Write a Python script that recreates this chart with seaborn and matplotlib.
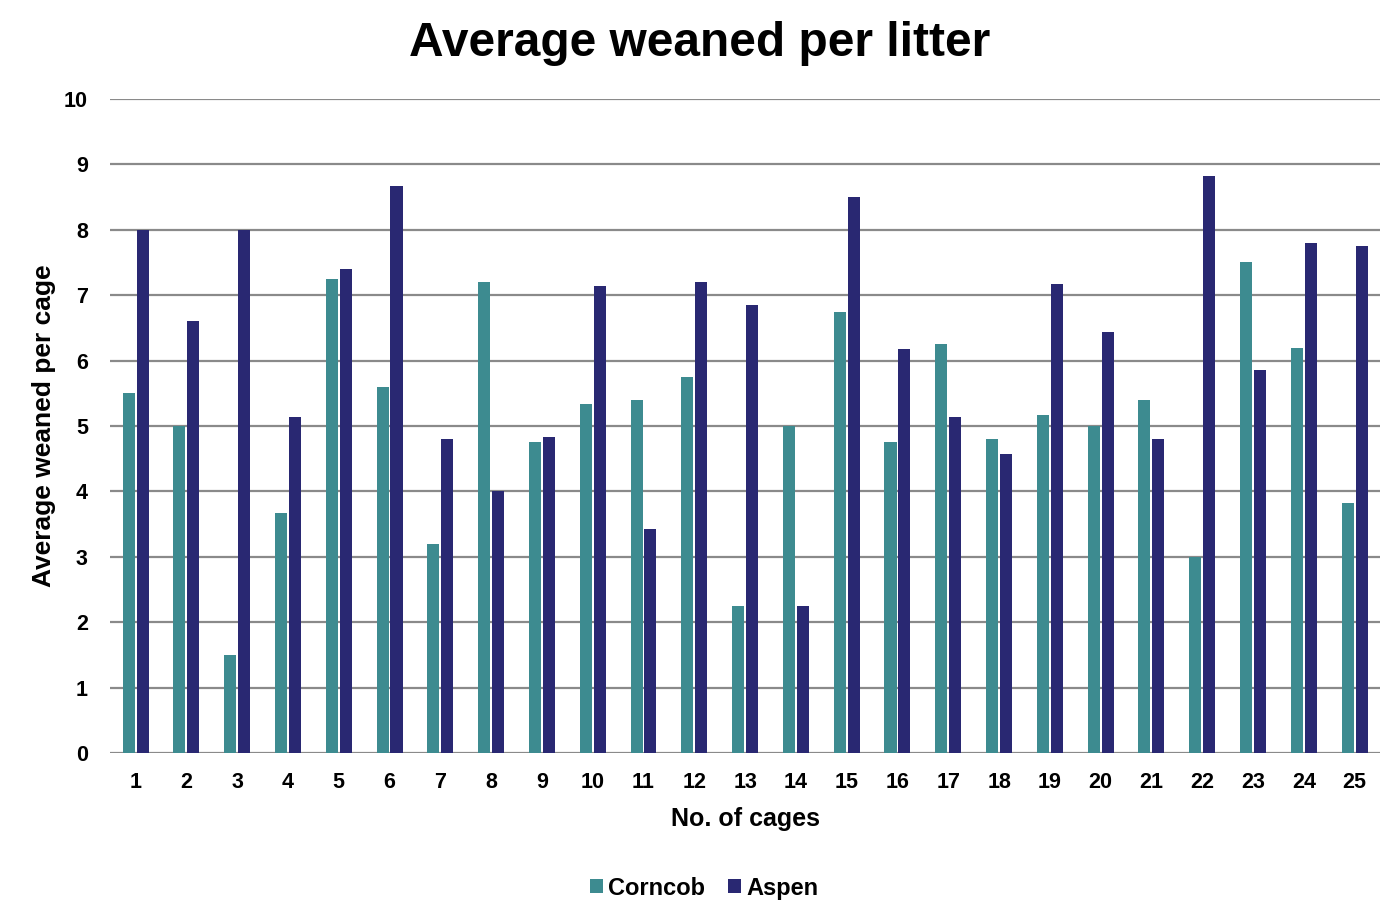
import matplotlib
matplotlib.use("Agg")
import matplotlib.pyplot as plt
import seaborn as sns
import pandas as pd

cages = [str(i) for i in range(1, 26)]
corncob = [5.5, 5.0, 1.5, 3.67, 7.25, 5.6, 3.2, 7.2, 4.75, 5.33, 5.4, 5.75, 2.25,
           5.0, 6.75, 4.75, 6.25, 4.8, 5.17, 5.0, 5.4, 3.0, 7.5, 6.2, 3.83]
aspen = [8.0, 6.6, 8.0, 5.14, 7.4, 8.67, 4.8, 4.0, 4.83, 7.14, 3.43, 7.2, 6.85,
         2.25, 8.5, 6.17, 5.14, 4.57, 7.17, 6.43, 4.8, 8.83, 5.86, 7.8, 7.75]
bedding = ["Corncob", "Aspen"]
colors = ["#3d8b90", "#292872"]

df = pd.DataFrame({
    "cage": cages * 2,
    "value": corncob + aspen,
    "bedding": [bedding[0]] * len(cages) + [bedding[1]] * len(cages),
})

sns.set_theme(style="white")
plt.rcParams["font.family"] = ["Liberation Sans", "DejaVu Sans"]
plt.rcParams["text.color"] = "black"
plt.rcParams["axes.labelcolor"] = "black"
plt.rcParams["xtick.color"] = "black"
plt.rcParams["ytick.color"] = "black"

fig = plt.figure(figsize=(13.94, 9.09), dpi=100)
ax = fig.add_axes([0.079, 0.1716, 0.911, 0.7195])

sns.barplot(data=df, x="cage", y="value", hue="bedding", hue_order=bedding,
            palette=colors, width=0.55, gap=0.14, ax=ax, legend=True,
            edgecolor="none", saturation=1)

ax.set_ylim(0, 10)
ax.set_xlim(-0.5, len(cages) - 0.5)
ax.set_yticks(range(0, 11))
ax.yaxis.grid(True, color="#8a8a8a", linewidth=1.6)
ax.set_axisbelow(True)
for s in ax.spines.values():
    s.set_visible(False)

ax.tick_params(axis="both", length=0, labelsize=15.5)
ax.tick_params(axis="y", pad=16)
ax.tick_params(axis="x", pad=14)
for lbl in ax.get_xticklabels() + ax.get_yticklabels():
    lbl.set_fontweight("bold")

ax.set_xlabel("No. of cages", fontsize=18, fontweight="bold", labelpad=10)
ax.set_ylabel("Average weaned per cage", fontsize=19, fontweight="bold", labelpad=6)
fig.suptitle("Average weaned per litter", fontsize=34.5, fontweight="bold",
             x=0.502, y=0.977)

fig.legend(*ax.get_legend_handles_labels(), loc="center", bbox_to_anchor=(0.505, 0.023),
           ncol=2, frameon=False, prop={"size": 17, "weight": "bold"},
           handlelength=0.55, handleheight=0.55, handletextpad=0.2, columnspacing=1.0)
ax.get_legend().remove()

fig.savefig("out.png", dpi=100)
